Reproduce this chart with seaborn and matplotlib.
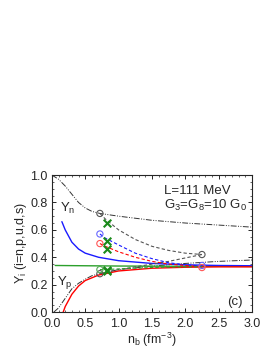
import numpy as np
import matplotlib
matplotlib.use("Agg")
import matplotlib.pyplot as plt
import seaborn as sns
from matplotlib.ticker import MultipleLocator

sns.set_style("ticks")
plt.rcParams['font.family'] = ['Liberation Sans', 'DejaVu Sans']
plt.rcParams['mathtext.fontset'] = 'custom'
plt.rcParams['mathtext.rm'] = 'Liberation Sans'
plt.rcParams['mathtext.it'] = 'Liberation Sans'

# hadronic phase (gray dash-dot)
had_x = [0.0, 0.1, 0.2, 0.3, 0.4, 0.5, 0.6, 0.72, 1.0, 1.5, 2.0, 2.5, 3.0]
had_yn = [1.0, 0.97, 0.92, 0.86, 0.80, 0.76, 0.735, 0.72, 0.70, 0.67, 0.65, 0.635, 0.62]
had_yp_x = [0.03, 0.1, 0.2, 0.3, 0.4, 0.5, 0.6, 0.72, 1.0, 1.5, 2.0, 2.5, 3.0]
had_yp = [0.0, 0.03, 0.10, 0.17, 0.21, 0.24, 0.265, 0.28, 0.31, 0.335, 0.355, 0.37, 0.38]

# pure quark phase (solid)
q_x = [0.15, 0.2, 0.3, 0.4, 0.5, 0.7, 1.0, 1.5, 2.0, 2.5, 3.0]
q_u = [0.66, 0.60, 0.51, 0.46, 0.43, 0.40, 0.375, 0.355, 0.345, 0.34, 0.338]
q_d_x = [0.17, 0.2, 0.3, 0.4, 0.5, 0.7, 1.0, 1.5, 2.0, 2.5, 3.0]
q_d = [0.0, 0.04, 0.13, 0.19, 0.23, 0.27, 0.30, 0.32, 0.327, 0.33, 0.33]
q_s_x = [0.05, 0.5, 1.0, 1.5, 2.0, 3.0]
q_s = [0.34, 0.338, 0.336, 0.335, 0.334, 0.333]

# mixed phase (dashed)
mix_x = [0.72, 0.8, 1.0, 1.25, 1.5, 1.75, 2.0, 2.25]
mix_yn = [0.72, 0.68, 0.60, 0.53, 0.48, 0.45, 0.43, 0.42]
mix_yp = [0.285, 0.29, 0.31, 0.33, 0.35, 0.37, 0.395, 0.42]
mix_u = [0.57, 0.54, 0.49, 0.43, 0.39, 0.36, 0.345, 0.335]
mix_d = [0.50, 0.48, 0.44, 0.40, 0.37, 0.35, 0.34, 0.33]
mix_s = [0.31, 0.31, 0.315, 0.32, 0.325, 0.328, 0.33, 0.33]

# phase boundary circles
circ_x = [0.72, 0.72, 2.25, 0.72, 2.25, 0.72, 2.25, 0.72]
circ_y = [0.72, 0.28, 0.42, 0.57, 0.34, 0.50, 0.325, 0.31]
circ_c = ['#555555', '#555555', '#555555', '#6666ff', '#6666ff', '#ff5555', '#ff5555', '#55aa55']

# crosses
cross_x = [0.82, 0.82, 0.82, 0.82, 0.82]
cross_y = [0.65, 0.52, 0.46, 0.30, 0.31]

fig = plt.figure(figsize=(2.73, 3.53), dpi=100)
ax = fig.add_axes([0.19, 0.116, 0.733, 0.388])

dashdot = (0, (6, 1.5, 1, 1.5, 1, 1.5))
dash = (0, (3, 2))
sns.lineplot(x=had_x, y=had_yn, ax=ax, color='#333333', lw=0.7, linestyle=dashdot)
sns.lineplot(x=had_yp_x, y=had_yp, ax=ax, color='#333333', lw=0.7, linestyle=dashdot)
sns.lineplot(x=q_s_x, y=q_s, ax=ax, color='#2ca02c', lw=1.0)
sns.lineplot(x=q_x, y=q_u, ax=ax, color='#1a1aff', lw=1.0)
sns.lineplot(x=q_d_x, y=q_d, ax=ax, color='#ff0000', lw=1.0)
sns.lineplot(x=mix_x, y=mix_yn, ax=ax, color='#555555', lw=0.8, linestyle=dash)
sns.lineplot(x=mix_x, y=mix_yp, ax=ax, color='#555555', lw=0.8, linestyle=dash)
sns.lineplot(x=mix_x, y=mix_u, ax=ax, color='#1a1aff', lw=0.8, linestyle=dash)
sns.lineplot(x=mix_x, y=mix_d, ax=ax, color='#ff0000', lw=0.8, linestyle=dash)
sns.lineplot(x=mix_x, y=mix_s, ax=ax, color='#2ca02c', lw=0.8, linestyle=dash)

for cx, cy, cc in zip(circ_x, circ_y, circ_c):
    ax.scatter([cx], [cy], s=20, facecolors='none', edgecolors=cc, linewidths=0.8, zorder=5)
sns.scatterplot(x=cross_x, y=cross_y, ax=ax, marker='x', color='#1a8a1a', s=30, linewidth=1.5, zorder=6)

ax.set_xlim(0, 3.0)
ax.set_ylim(0, 1.0)
ax.xaxis.set_major_locator(MultipleLocator(0.5))
ax.xaxis.set_minor_locator(MultipleLocator(0.1))
ax.yaxis.set_major_locator(MultipleLocator(0.2))
ax.yaxis.set_minor_locator(MultipleLocator(0.05))
ax.tick_params(which='both', direction='in', top=True, right=True, labelsize=9)
ax.tick_params(axis='x', pad=4)
ax.tick_params(axis='y', pad=3)
ax.tick_params(which='major', length=3, width=0.7)
ax.tick_params(which='minor', length=1.5, width=0.5)
for s in ax.spines.values():
    s.set_linewidth(0.8)

ax.set_xlabel(r'n$_\mathrm{b}$ (fm$^{-3}$)', fontsize=9, labelpad=1)
ax.set_ylabel(r'Y$_\mathrm{i}$ (i=n,p,u,d,s)', fontsize=9, labelpad=1)

ax.text(1.68, 0.86, 'L=111 MeV', fontsize=9.5)
ax.text(1.68, 0.755, r'G$_3$=G$_8$=10 G$_0$', fontsize=9.5)
ax.text(0.12, 0.73, r'Y$_\mathrm{n}$', fontsize=9.5)
ax.text(0.07, 0.20, r'Y$_\mathrm{p}$', fontsize=9.5)
ax.text(2.62, 0.05, '(c)', fontsize=9.5)

fig.savefig('out.png', dpi=100)
